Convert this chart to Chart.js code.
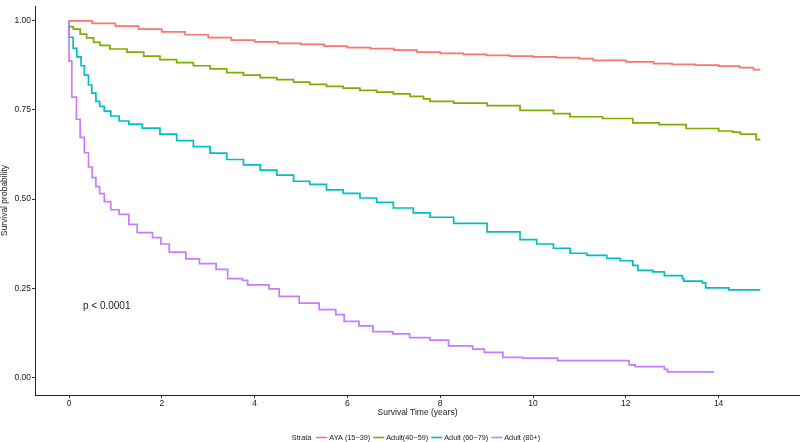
<!DOCTYPE html>
<html>
<head>
<meta charset="utf-8">
<script src="https://cdn.jsdelivr.net/npm/chart.js@4.4.0/dist/chart.umd.min.js"></script>
<style>
  html, body { margin:0; padding:0; background:#fff; }
  #wrap { width:800px; height:442px; }
</style>
</head>
<body>
<div id="wrap"><canvas id="kmChart" width="800" height="442"></canvas></div>
<script>
// series labels + colours (ggplot defaults)
const strata = ['AYA (15\u221239)', 'Adult(40\u221259)', 'Adult (60\u221279)', 'Adult (80+)'];
const colors = ['#F8766D', '#7CAE00', '#00BFC4', '#C77CFF'];

// AYA (15-39)
const timeAya = [0, 0.5, 1.0, 1.5, 2.0, 2.5, 3.0, 3.5, 4.0, 4.5, 5.0, 5.5, 6.0, 6.5, 7.0, 7.5, 8.0, 8.5, 9.0, 9.5, 10.0, 10.5, 11.0, 11.3, 12.0, 12.6, 13.0, 13.5, 14.0, 14.45, 14.75, 14.9];
const survAya = [1.000, 0.993, 0.985, 0.977, 0.969, 0.961, 0.953, 0.946, 0.941, 0.937, 0.934, 0.929, 0.925, 0.922, 0.918, 0.912, 0.909, 0.906, 0.903, 0.901, 0.899, 0.897, 0.894, 0.889, 0.885, 0.880, 0.878, 0.876, 0.873, 0.869, 0.863, 0.863];

// Adult (40-59)
const time4059 = [0, 0, 0.09, 0.24, 0.38, 0.53, 0.67, 0.88, 1.25, 1.61, 1.96, 2.32, 2.68, 3.04, 3.4, 3.76, 4.12, 4.48, 4.84, 5.19, 5.55, 5.91, 6.27, 6.63, 6.99, 7.35, 7.64, 7.78, 8.29, 9.01, 9.72, 10.44, 10.8, 11.5, 12.15, 12.72, 13.3, 14.0, 14.3, 14.47, 14.81, 14.9];
const surv4059 = [1.000, 0.984, 0.977, 0.963, 0.952, 0.940, 0.931, 0.921, 0.912, 0.901, 0.891, 0.883, 0.874, 0.865, 0.855, 0.848, 0.841, 0.835, 0.828, 0.822, 0.816, 0.811, 0.805, 0.800, 0.795, 0.788, 0.781, 0.774, 0.769, 0.762, 0.749, 0.740, 0.731, 0.726, 0.714, 0.709, 0.698, 0.691, 0.688, 0.682, 0.667, 0.667];

// Adult (60-79)
const time6079 = [0, 0, 0.09, 0.17, 0.26, 0.33, 0.42, 0.49, 0.58, 0.66, 0.76, 0.9, 1.08, 1.29, 1.58, 1.96, 2.32, 2.68, 3.04, 3.4, 3.76, 4.12, 4.48, 4.84, 5.19, 5.55, 5.91, 6.27, 6.63, 6.99, 7.42, 7.78, 8.29, 9.01, 9.72, 10.08, 10.44, 10.8, 11.16, 11.59, 11.88, 12.15, 12.26, 12.58, 12.83, 13.22, 13.25, 13.65, 13.72, 14.22, 14.9];
const surv6079 = [1.000, 0.954, 0.923, 0.899, 0.874, 0.848, 0.820, 0.797, 0.774, 0.760, 0.747, 0.733, 0.719, 0.710, 0.699, 0.682, 0.664, 0.647, 0.629, 0.611, 0.596, 0.581, 0.567, 0.550, 0.541, 0.526, 0.516, 0.503, 0.491, 0.475, 0.461, 0.449, 0.432, 0.408, 0.386, 0.374, 0.362, 0.348, 0.342, 0.334, 0.327, 0.314, 0.300, 0.296, 0.285, 0.277, 0.270, 0.265, 0.251, 0.245, 0.245];

// Adult (80+)
const time80 = [0, 0, 0.06, 0.16, 0.24, 0.33, 0.42, 0.5, 0.58, 0.66, 0.76, 0.9, 1.08, 1.29, 1.47, 1.8, 1.98, 2.16, 2.52, 2.81, 3.17, 3.42, 3.74, 3.85, 4.31, 4.53, 4.96, 5.39, 5.75, 5.93, 6.25, 6.55, 6.98, 7.34, 7.78, 8.18, 8.7, 8.95, 9.35, 9.78, 10.53, 12.07, 12.2, 12.83, 12.9, 13.9];
const surv80 = [1.000, 0.887, 0.786, 0.724, 0.673, 0.630, 0.590, 0.560, 0.535, 0.515, 0.493, 0.470, 0.457, 0.429, 0.406, 0.392, 0.374, 0.351, 0.332, 0.319, 0.303, 0.277, 0.272, 0.259, 0.248, 0.227, 0.208, 0.190, 0.176, 0.157, 0.144, 0.128, 0.122, 0.111, 0.104, 0.088, 0.079, 0.070, 0.056, 0.054, 0.047, 0.035, 0.030, 0.022, 0.015, 0.015];

const xTicks = [0, 2, 4, 6, 8, 10, 12, 14];
const yTicks = [0, 0.25, 0.5, 0.75, 1];

const times = [timeAya, time4059, time6079, time80];
const survs = [survAya, surv4059, surv6079, surv80];

const FONT = '"Liberation Sans", Arial, sans-serif';
const INK = '#1a1a1a';

function pts(t, s){ return t.map((x, i) => ({x: x, y: s[i]})); }

// p-value + bottom legend (ggplot style, inline with "Strata")
const annotations = {
  id: 'annotations',
  afterDraw(chart){
    const ctx = chart.ctx;
    const xs = chart.scales.x, ys = chart.scales.y;
    ctx.save();
    ctx.fillStyle = INK;
    ctx.font = '10px ' + FONT;
    ctx.textAlign = 'left';
    ctx.textBaseline = 'middle';
    ctx.fillText('p < 0.0001', xs.getPixelForValue(0.3), ys.getPixelForValue(0.2));

    // legend
    ctx.font = '7.3px ' + FONT;
    const sw = 11;
    let total = ctx.measureText('Strata').width + 5;
    strata.forEach(l => { total += sw + 2 + ctx.measureText(l).width + 3; });
    let x = 417.5 - total / 2;
    const y = 437.5;
    ctx.fillText('Strata', x, y);
    x += ctx.measureText('Strata').width + 5;
    strata.forEach((l, i) => {
      ctx.strokeStyle = colors[i];
      ctx.lineWidth = 1.6;
      ctx.beginPath();
      ctx.moveTo(x, y);
      ctx.lineTo(x + sw, y);
      ctx.stroke();
      x += sw + 2;
      ctx.fillText(l, x, y);
      x += ctx.measureText(l).width + 3;
    });
    ctx.restore();
  }
};

new Chart(document.getElementById('kmChart'), {
  type: 'line',
  data: {
    datasets: strata.map((l, i) => ({
      label: l,
      data: pts(times[i], survs[i]),
      borderColor: colors[i],
      backgroundColor: colors[i],
      borderWidth: 1.7,
      pointRadius: 0,
      stepped: 'before',
      fill: false,
      order: 4 - i
    }))
  },
  options: {
    responsive: false,
    animation: false,
    layout: { padding: 0 },
    plugins: { legend: { display: false }, tooltip: { enabled: false } },
    scales: {
      x: {
        type: 'linear',
        min: -0.733,
        max: 15.754,
        afterFit: s => { s.height = 47; },
        afterBuildTicks: s => { s.ticks = xTicks.map(v => ({value: v})); },
        ticks: { color: INK, font: { family: FONT, size: 8.5 }, padding: 1, maxRotation: 0, callback: v => String(v) },
        grid: { drawOnChartArea: false, drawTicks: true, tickLength: 3, color: '#333', tickWidth: 1 },
        border: { display: true, color: '#222', width: 1 },
        title: { display: true, text: 'Survival Time (years)', color: INK, font: { family: FONT, size: 8.5 }, padding: { top: 0, bottom: 24 } }
      },
      y: {
        type: 'linear',
        min: -0.0497,
        max: 1.0414,
        afterFit: s => { s.width = 35; },
        afterBuildTicks: s => { s.ticks = yTicks.map(v => ({value: v})); },
        ticks: { color: INK, font: { family: FONT, size: 8.5 }, padding: 1, callback: v => Number(v).toFixed(2) },
        grid: { drawOnChartArea: false, drawTicks: true, tickLength: 3, color: '#333', tickWidth: 1 },
        border: { display: true, color: '#222', width: 1 },
        title: { display: true, text: 'Survival probability', color: INK, font: { family: FONT, size: 8.5 }, padding: { top: 0, bottom: 0 } }
      }
    }
  },
  plugins: [annotations]
});
</script>
</body>
</html>
